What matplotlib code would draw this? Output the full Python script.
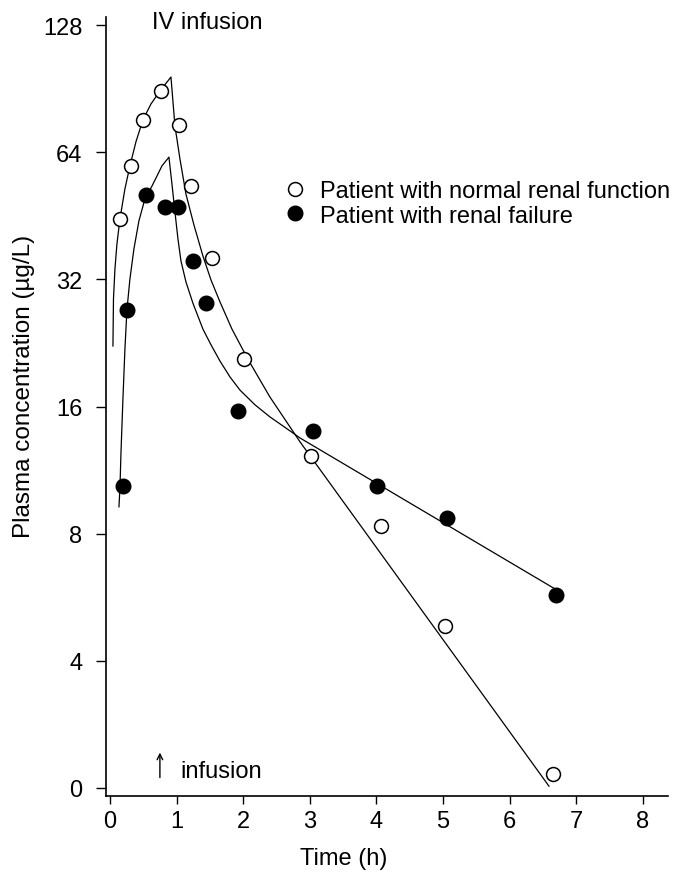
import matplotlib
matplotlib.use("Agg")
import matplotlib.pyplot as plt
from matplotlib.lines import Line2D

plt.rcParams['font.family'] = ['Liberation Sans', 'DejaVu Sans']

# measured plasma concentrations (ug/L) against time (h)
normal_t = [0.15, 0.32, 0.50, 0.77, 1.04, 1.22, 1.53, 2.01, 3.02, 4.07, 5.03, 6.65]
normal_c = [44.5, 59.4, 76.3, 89.3, 74.2, 53.2, 36.0, 20.7, 12.2, 8.35, 4.84, 2.16]

renal_t = [0.195, 0.255, 0.54, 0.83, 1.02, 1.25, 1.44, 1.92, 3.05, 4.01, 5.06, 6.70]
renal_c = [10.4, 27.1, 50.7, 47.5, 47.5, 35.4, 28.1, 15.6, 14.0, 10.4, 8.72, 5.73]

# fitted model curves
normal_fit_t = [0.045, 0.053, 0.075, 0.105, 0.15, 0.225, 0.30, 0.39, 0.495, 0.615,
                0.75, 0.916, 0.976, 1.051, 1.141, 1.261, 1.396, 1.517, 1.652, 1.832,
                2.072, 2.402, 2.853, 6.592]
normal_fit_c = [22.25, 28.76, 33.87, 38.8, 44.5, 52.4, 59.4, 67.7, 76.3, 83.2,
                89.3, 96.4, 73.8, 61.7, 50.96, 43.05, 36.35, 31.9, 28.3, 24.4,
                20.7, 16.85, 13.2, 2.02]

renal_fit_t = [0.135, 0.150, 0.165, 0.195, 0.225, 0.255, 0.30, 0.36, 0.435, 0.525,
               0.631, 0.706, 0.781, 0.886, 0.931, 0.976, 1.021, 1.066, 1.141, 1.246,
               1.396, 1.517, 1.652, 1.802, 1.952, 2.177, 2.402, 2.628, 2.853, 6.682]
renal_fit_c = [9.26, 10.21, 12.36, 16.68, 21.9, 27.1, 32.07, 37.77, 44.0, 49.6,
               53.2, 56.2, 59.4, 62.3, 53.8, 46.2, 39.9, 35.4, 31.56, 28.1,
               24.4, 22.4, 20.5, 18.8, 17.5, 16.15, 15.12, 14.28, 13.48, 5.92]

y_ticks = [2, 4, 8, 16, 32, 64, 128]
y_tick_labels = ['0', '4', '8', '16', '32', '64', '128']
x_ticks = [0, 1, 2, 3, 4, 5, 6, 7, 8]

fig = plt.figure(figsize=(6.88, 8.79), dpi=100)
ax = fig.add_axes([0.154, 0.0933, 0.817, 0.8862])

ax.plot(normal_fit_t, normal_fit_c, color='black', lw=0.9)
ax.plot(renal_fit_t, renal_fit_c, color='black', lw=0.9)
ax.plot(normal_t, normal_c, 'o', ms=10, mfc='white', mec='black', mew=1.1, zorder=3)
ax.plot(renal_t, renal_c, 'o', ms=10.5, mfc='black', mec='black', zorder=3)

ax.set_yscale('log', base=2)
ax.set_ylim(2 ** 0.937, 2 ** 7.063)
ax.set_xlim(-0.06, 8.38)
ax.set_yticks(y_ticks)
ax.set_yticklabels(y_tick_labels)
ax.minorticks_off()
ax.set_xticks(x_ticks)

for s in ['top', 'right']:
    ax.spines[s].set_visible(False)
for s in ['left', 'bottom']:
    ax.spines[s].set_linewidth(1.2)
ax.tick_params(axis='y', length=7, width=1, pad=10, labelsize=17)
ax.tick_params(axis='x', length=6, width=1, pad=4, labelsize=17)

handles = [Line2D([], [], ls='none', marker='o', ms=10, mfc='white', mec='black', mew=1.1),
           Line2D([], [], ls='none', marker='o', ms=10.5, mfc='black', mec='black')]
ax.legend(handles, ['Patient with normal renal function', 'Patient with renal failure'],
          loc='upper left', bbox_to_anchor=(0.316, 0.791), frameon=False,
          fontsize=17, handlelength=1.0, handletextpad=0.55, labelspacing=0.12,
          borderpad=0, borderaxespad=0)

ax.text(0.181, 0.993, 'IV infusion', transform=ax.transAxes, fontsize=17,
        ha='center', va='center')
ax.annotate('', xy=(0.75, 2 ** 1.30), xytext=(0.75, 2 ** 1.06),
            arrowprops=dict(arrowstyle='->', lw=1.0, color='black'))
ax.text(1.05, 2 ** 1.13, 'infusion', fontsize=17, ha='left', va='center')

fig.text(24 / 688, 1 - 386 / 879, 'Plasma concentration (\u00b5g/L)', rotation=90,
         ha='center', va='center', fontsize=17.5)
fig.text(344 / 688, 1 - 859 / 879, 'Time (h)', ha='center', va='center', fontsize=17)

fig.savefig('out.png', dpi=100)
